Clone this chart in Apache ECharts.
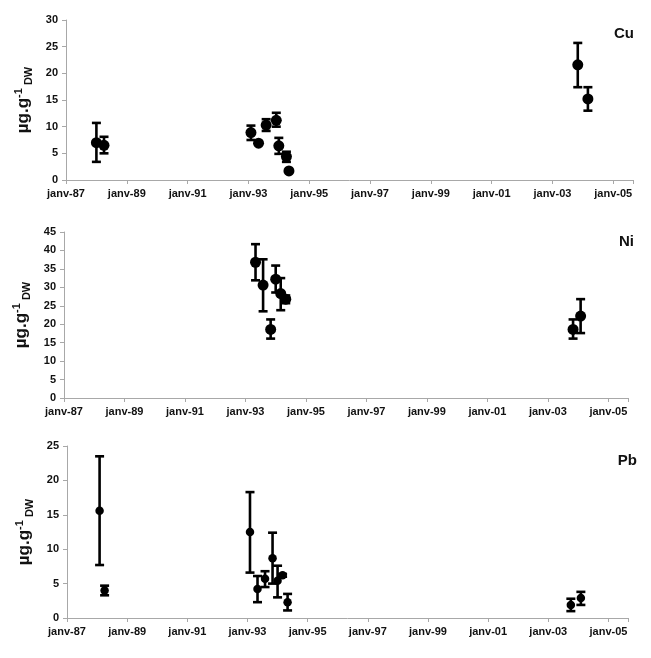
<!DOCTYPE html>
<html>
  <head>
    <meta charset="utf-8" />
    <title>Cu Ni Pb</title>
    <script src="https://cdn.jsdelivr.net/npm/echarts@6.0.0/dist/echarts.min.js"></script>
    <style>
      html, body { margin: 0; padding: 0; background: #fff; }
    </style>
  </head>
  <body>
    <div id="main" style="width: 651px; height: 658px"></div>
    <script type="text/javascript">
      // sampling dates (year-month) and values in µg.g-1 DW
      var cuDates = ["1988-01", "1988-04", "1993-02", "1993-05", "1993-08", "1993-12", "1994-01", "1994-04", "1994-05", "2003-11", "2004-03"];
      var cuMean = [7.0, 6.5, 8.9, 6.9, 10.3, 11.2, 6.4, 4.4, 1.7, 21.6, 15.2];
      var cuLow = [3.4, 5.0, 7.5, 6.7, 9.2, 10.0, 4.9, 3.4, 1.6, 17.4, 13.0];
      var cuHigh = [10.7, 8.1, 10.2, 7.1, 11.4, 12.6, 7.9, 5.3, 1.8, 25.7, 17.4];

      var niDates = ["1993-05", "1993-08", "1993-11", "1994-01", "1994-03", "1994-05", "2003-11", "2004-02"];
      var niMean = [36.8, 30.6, 18.6, 32.2, 28.3, 26.8, 18.6, 22.2];
      var niLow = [31.9, 23.5, 16.1, 28.6, 23.8, 25.7, 16.1, 17.6];
      var niHigh = [41.7, 37.6, 21.3, 35.9, 32.5, 27.8, 21.3, 26.8];

      var pbDates = ["1988-02", "1988-04", "1993-02", "1993-05", "1993-08", "1993-11", "1994-01", "1994-03", "1994-05", "2003-10", "2004-02"];
      var pbMean = [15.6, 4.0, 12.5, 4.2, 5.7, 8.7, 5.4, 6.2, 2.3, 1.9, 2.9];
      var pbLow = [7.7, 3.3, 6.6, 2.3, 4.5, 5.0, 3.0, 6.0, 1.1, 1.0, 1.9];
      var pbHigh = [23.5, 4.7, 18.3, 6.1, 6.8, 12.4, 7.6, 6.4, 3.5, 2.8, 3.8];

      var yMax = [30, 45, 25];
      var metals = ["Cu", "Ni", "Pb"];

      // x axis counts years since janv-87
      function yearsSince87(d) {
        var p = d.split("-");
        return (+p[0] - 1987) + (+p[1] - 1) / 12;
      }

      var myChart = echarts.init(document.getElementById("main"));

      var font = "'Liberation Sans', Arial, sans-serif";
      var axisGray = "#a8a8a8";

      var grids = [
        { left: 66, right: 18, top: 20, height: 160 },
        { left: 64, right: 23, top: 232, height: 166 },
        { left: 67, right: 23, top: 446, height: 172 }
      ];

      var xAxes = grids.map(function (g, i) {
        return {
          type: "value",
          gridIndex: i,
          min: 0,
          max: 18.65,
          interval: 2,
          splitLine: { show: false },
          axisLine: { lineStyle: { color: axisGray, width: 1 } },
          axisTick: { length: 4, lineStyle: { color: axisGray } },
          axisLabel: {
            color: "#111",
            fontFamily: font,
            fontWeight: "bold",
            fontSize: 11,
            margin: 8,
            formatter: function (v) {
              if (Math.abs(v - Math.round(v)) > 1e-6) return "";
              var yy = (87 + v) % 100;
              return "janv-" + (yy < 10 ? "0" + yy : yy);
            }
          }
        };
      });

      var yAxes = grids.map(function (g, i) {
        return {
          type: "value",
          gridIndex: i,
          min: 0,
          max: yMax[i],
          interval: 5,
          splitLine: { show: false },
          axisLine: { show: true, lineStyle: { color: axisGray, width: 1 } },
          axisTick: { show: true, length: 4, lineStyle: { color: axisGray } },
          axisLabel: {
            color: "#111",
            fontFamily: font,
            fontWeight: "bold",
            fontSize: 11,
            margin: 8
          },
          name: "{a|µg.g}{sup|-1}{sub| DW}",
          nameLocation: "middle",
          nameRotate: 90,
          nameGap: 32,
          nameTextStyle: {
            color: "#111",
            fontFamily: font,
            rich: {
              a: { fontSize: 17, fontWeight: "bold", fontFamily: font, color: "#111", verticalAlign: "middle" },
              sup: { fontSize: 11, fontWeight: "bold", fontFamily: font, color: "#111", verticalAlign: "top", padding: [0, 0, 10, 0] },
              sub: { fontSize: 11, fontWeight: "bold", fontFamily: font, color: "#111", verticalAlign: "bottom", padding: [10, 0, 0, 0] }
            }
          }
        };
      });

      function errorBars(dates, low, high, idx) {
        return {
          type: "custom",
          xAxisIndex: idx,
          yAxisIndex: idx,
          data: dates.map(function (d, k) {
            return [yearsSince87(d), low[k], high[k]];
          }),
          renderItem: function (params, api) {
            var x = api.value(0);
            var top = api.coord([x, api.value(2)]);
            var bot = api.coord([x, api.value(1)]);
            var w = 4.5;
            var st = { stroke: "#000", lineWidth: 2.6 };
            return {
              type: "group",
              children: [
                { type: "line", shape: { x1: top[0], y1: top[1], x2: bot[0], y2: bot[1] }, style: st },
                { type: "line", shape: { x1: top[0] - w, y1: top[1], x2: top[0] + w, y2: top[1] }, style: st },
                { type: "line", shape: { x1: bot[0] - w, y1: bot[1], x2: bot[0] + w, y2: bot[1] }, style: st }
              ]
            };
          },
          silent: true,
          z: 2
        };
      }

      function points(dates, mean, idx, size) {
        return {
          type: "scatter",
          xAxisIndex: idx,
          yAxisIndex: idx,
          symbol: "circle",
          symbolSize: size,
          itemStyle: { color: "#000", opacity: 1 },
          data: dates.map(function (d, k) {
            return [yearsSince87(d), mean[k]];
          }),
          z: 3
        };
      }

      var option = {
        backgroundColor: "#fff",
        animation: false,
        title: [
          { text: "Cu", right: 17, top: 26 },
          { text: "Ni", right: 17, top: 234 },
          { text: "Pb", right: 14, top: 453 }
        ].map(function (t) {
          t.textStyle = { fontFamily: font, fontWeight: "bold", fontSize: 15, color: "#111" };
          t.padding = 0;
          return t;
        }),
        grid: grids,
        xAxis: xAxes,
        yAxis: yAxes,
        series: [
          errorBars(cuDates, cuLow, cuHigh, 0),
          points(cuDates, cuMean, 0, 11),
          errorBars(niDates, niLow, niHigh, 1),
          points(niDates, niMean, 1, 11),
          errorBars(pbDates, pbLow, pbHigh, 2),
          points(pbDates, pbMean, 2, 8.5)
        ]
      };

      myChart.setOption(option);
    </script>
  </body>
</html>
